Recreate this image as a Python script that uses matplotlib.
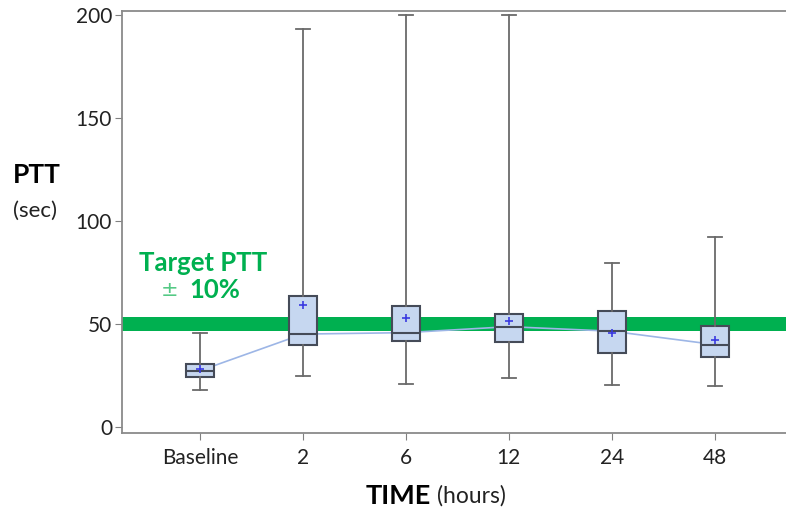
import matplotlib
matplotlib.use("Agg")
import matplotlib.pyplot as plt

plt.rcParams['font.family'] = ['Lato', 'DejaVu Sans']

# values (PTT in seconds)
labels = ['Baseline', '2', '6', '12', '24', '48']
whis_low = [18.0, 24.8, 20.9, 23.6, 20.2, 19.9]
q1 = [24.4, 39.8, 41.7, 41.1, 36.1, 33.8]
medians = [27.3, 45.1, 45.8, 48.7, 46.5, 40.0]
q3 = [30.4, 63.6, 58.9, 54.7, 56.3, 49.0]
whis_high = [45.4, 193.2, 200.0, 200.0, 79.5, 92.2]
means = [28.0, 59.4, 52.9, 51.3, 45.6, 42.1]

target_low = 46.5
target_high = 53.5

stats = []
for i in range(len(labels)):
    stats.append({'label': labels[i], 'whislo': whis_low[i], 'q1': q1[i],
                  'med': medians[i], 'q3': q3[i], 'whishi': whis_high[i],
                  'mean': means[i], 'fliers': []})

fig = plt.figure(figsize=(7.86, 5.17), dpi=100)
ax = fig.add_axes([0.155, 0.1625, 0.845, 0.8162])

ax.axhspan(target_low, target_high, color='#00b050', lw=0, zorder=1)

pos = list(range(len(labels)))
ax.plot(pos, medians, color='#9db6e6', lw=1.2, zorder=2)

ax.bxp(stats, positions=pos, widths=0.27, showmeans=True, patch_artist=True,
       boxprops=dict(facecolor='#c6d7f0', edgecolor='#454b58', lw=1.5),
       medianprops=dict(color='#454b58', lw=1.5),
       whiskerprops=dict(color='#6a6a6a', lw=1.3),
       capprops=dict(color='#6a6a6a', lw=1.3),
       meanprops=dict(marker='+', markeredgecolor='#3a3ae0', markersize=6, mew=1.2),
       capwidths=0.13, zorder=3)

ax.set_xlim(-0.757, 5.69)
ax.set_ylim(-2.9, 201.9)
ax.set_yticks([0, 50, 100, 150, 200])
ax.set_xticks(pos)
ax.set_xticklabels(labels)
ax.tick_params(axis='both', direction='out', length=5, color='#808080',
               labelsize=15, labelcolor='#222222', pad=2)
ax.tick_params(axis='x', pad=6)
ax.spines['right'].set_visible(False)
for s in ['left', 'top', 'bottom']:
    ax.spines[s].set_color('#8a8a8a')
    ax.spines[s].set_linewidth(1.3)

ax.text(0.035, 79.6, 'Target PTT', color='#00b050', fontsize=18.5,
        fontweight='bold', ha='center', va='center')
ax.text(-0.22, 66.5, '$\\pm$', color='#55c985', fontsize=15,
        ha='right', va='center')
ax.text(-0.1, 66.5, '10%', color='#00b050', fontsize=18.5,
        fontweight='bold', ha='left', va='center')

fig.text(0.047, 0.661, 'PTT', fontsize=19, fontweight='bold', ha='center', va='center')
fig.text(0.045, 0.592, '(sec)', fontsize=16, ha='center', va='center', color='#222222')
fig.text(0.548, 0.041, 'TIME', fontsize=19.5, fontweight='bold', ha='right', va='center')
fig.text(0.556, 0.041, '(hours)', fontsize=16.5, ha='left', va='center', color='#222222')

fig.savefig('out.png', dpi=100)
